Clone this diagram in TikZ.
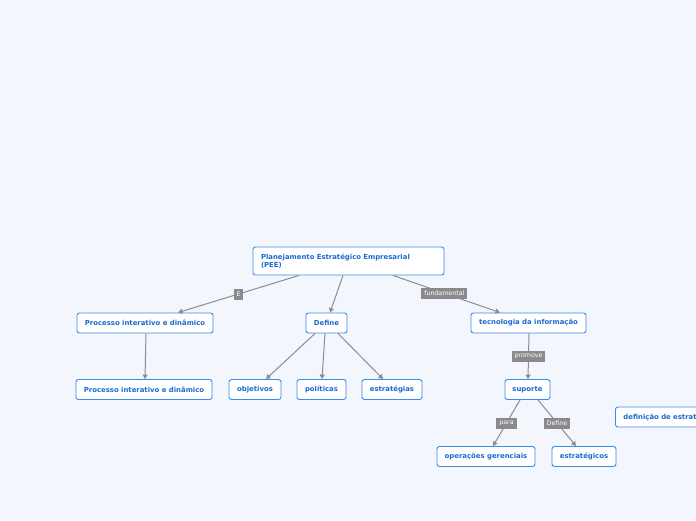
\documentclass[tikz,border=0pt]{standalone}
\usepackage{fontspec}
\setmainfont{DejaVu Sans}
\usetikzlibrary{arrows.meta,calc}
\definecolor{bgc}{HTML}{F3F6FD}
\definecolor{bord}{HTML}{3C8BE6}
\definecolor{txt}{HTML}{1A6BCF}
\definecolor{edg}{HTML}{8C8C90}
\definecolor{lbl}{HTML}{8A8A8A}
\tikzset{
  topic/.style={draw=bord, line width=0.9pt, fill=white, rounded corners=2.5pt, text=txt,
    font=\bfseries\fontsize{6.9}{8}\selectfont, minimum height=20pt, inner xsep=4pt, anchor=center},
  conn/.style={draw=edg, line width=1pt, -{Triangle[width=5pt,length=4.5pt]}},
  lab/.style={fill=lbl, text=white, font=\fontsize{6.3}{7}\selectfont, inner xsep=3pt, inner ysep=2pt, minimum height=11pt}
}
\begin{document}
\begin{tikzpicture}[x=1pt,y=-1pt]
\fill[bgc] (0,0) rectangle (696,520);
\useasboundingbox (0,0) rectangle (696,520);
\clip (0,0) rectangle (696,520);

\node[topic, minimum width=191pt, minimum height=28pt, align=left, text width=175pt, inner xsep=8pt] (pee) at (348.5,261) {Planejamento Estratégico Empresarial\\(PEE)};
\node[topic, minimum width=136pt] (p1) at (145,323) {Processo interativo e dinâmico};
\node[topic, minimum width=136pt] (p2) at (144,389.5) {Processo interativo e dinâmico};
\node[topic, minimum width=41pt] (def) at (326.5,323) {Define};
\node[topic, minimum width=52pt] (obj) at (255,389.5) {objetivos};
\node[topic, minimum width=49pt] (pol) at (321.5,389.5) {políticas};
\node[topic, minimum width=60pt] (est) at (392,389.5) {estratégias};
\node[topic, minimum width=115pt] (tec) at (528.5,323) {tecnologia da informação};
\node[topic, minimum width=45pt] (sup) at (527.5,389.5) {suporte};
\node[topic, minimum width=98pt] (ope) at (486,456.5) {operações gerenciais};
\node[topic, minimum width=64pt] (estg) at (584,456.5) {estratégicos};
\node[topic, anchor=west, text width=100pt, inner xsep=8pt, align=left] (defe) at (615,417) {definição de estrat};

\draw[conn] ([xshift=-49.5pt]pee.south) -- node[lab, pos=0.5]{E} ([xshift=33pt]p1.north);
\draw[conn] ([xshift=-5.5pt]pee.south) -- ([xshift=3.5pt]def.north);
\draw[conn] ([xshift=44.5pt]pee.south) -- node[lab, pos=0.48]{fundamental} ([xshift=-28.5pt]tec.north);
\draw[conn] ([xshift=1pt]p1.south) -- ([xshift=1pt]p2.north);
\draw[conn] ([xshift=-11.5pt]def.south) -- ([xshift=11pt]obj.north);
\draw[conn] ([xshift=-1.5pt]def.south) -- ([xshift=0.5pt]pol.north);
\draw[conn] ([xshift=11.5pt]def.south) -- ([xshift=-9pt]est.north);
\draw[conn] ([xshift=0.5pt]tec.south) -- node[lab]{promove} ([xshift=0.5pt]sup.north);
\draw[conn] ([xshift=-7.5pt]sup.south) -- node[lab]{para} ([xshift=7pt]ope.north);
\draw[conn] ([xshift=10.5pt]sup.south) -- node[lab]{Define} ([xshift=-8pt]estg.north);
\end{tikzpicture}
\end{document}
